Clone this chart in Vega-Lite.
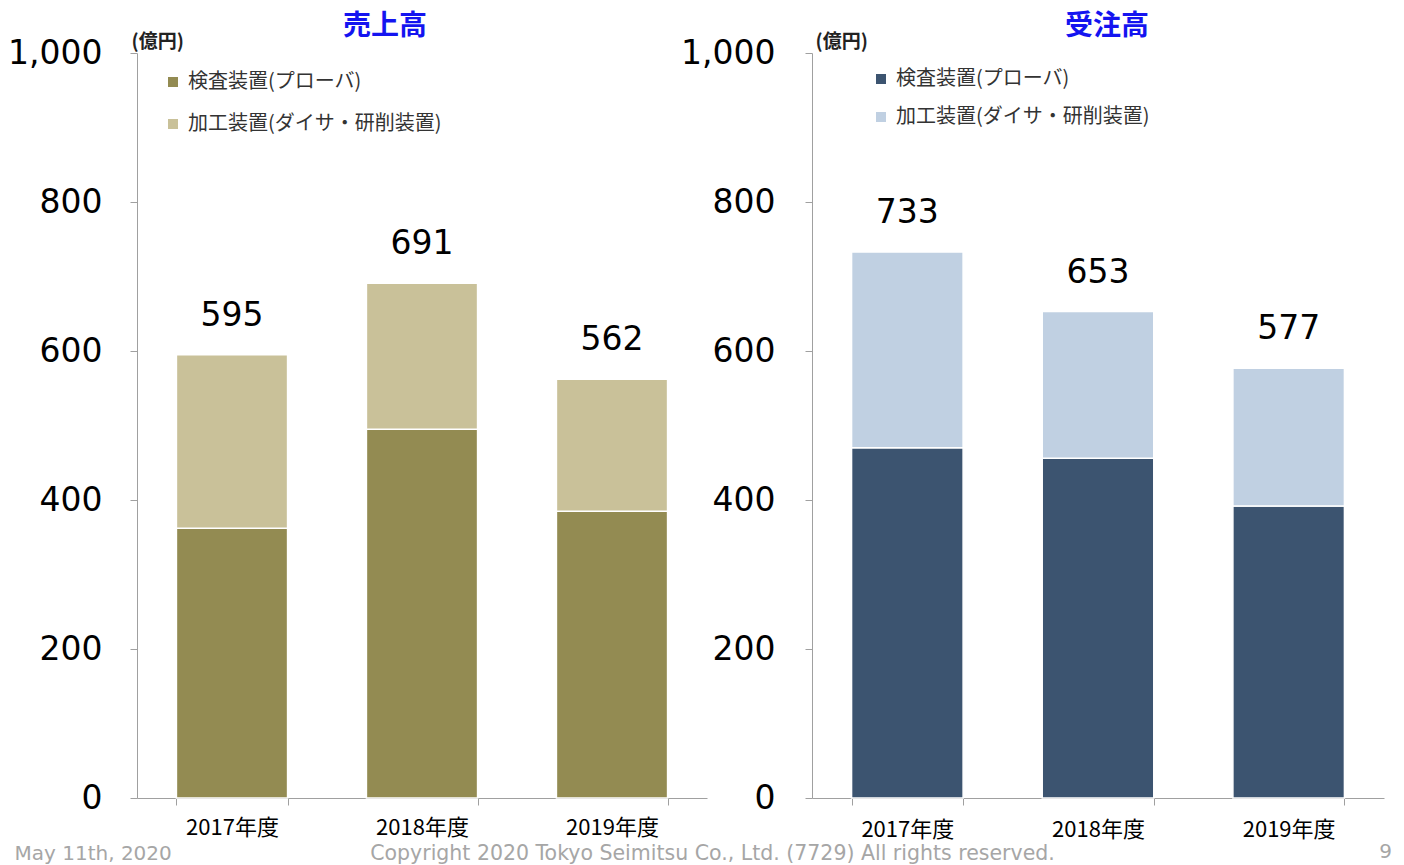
{
  "$schema": "https://vega.github.io/schema/vega-lite/v6.json",
  "background": "white",
  "padding": {"left": 7, "top": 13, "right": 5, "bottom": 5},
  "config": {
    "view": {"stroke": null},
    "axis": {"grid": false}
  },
  "bounds": "flush",
  "spacing": 105,
  "datasets": {
    "sales": [
      {"year": "2017年度", "segment": "検査装置(プローバ)", "value": 362},
      {"year": "2017年度", "segment": "加工装置(ダイサ・研削装置)", "value": 233},
      {"year": "2018年度", "segment": "検査装置(プローバ)", "value": 495},
      {"year": "2018年度", "segment": "加工装置(ダイサ・研削装置)", "value": 196},
      {"year": "2019年度", "segment": "検査装置(プローバ)", "value": 385},
      {"year": "2019年度", "segment": "加工装置(ダイサ・研削装置)", "value": 177}
    ],
    "orders": [
      {"year": "2017年度", "segment": "検査装置(プローバ)", "value": 470},
      {"year": "2017年度", "segment": "加工装置(ダイサ・研削装置)", "value": 263},
      {"year": "2018年度", "segment": "検査装置(プローバ)", "value": 456},
      {"year": "2018年度", "segment": "加工装置(ダイサ・研削装置)", "value": 197},
      {"year": "2019年度", "segment": "検査装置(プローバ)", "value": 392},
      {"year": "2019年度", "segment": "加工装置(ダイサ・研削装置)", "value": 185}
    ]
  },
  "title": {"text": "9", "orient": "bottom", "anchor": "end", "frame": "bounds", "fontSize": 20, "color": "#A6A6A6", "font": "DejaVu Sans", "fontWeight": "normal", "offset": -22, "dx": 8},
  "hconcat": [
    {
      "width": 570,
      "height": 745,
      "title": {"text": "売上高", "color": "#1414F0", "fontSize": 28, "fontWeight": "bold", "font": "Noto Sans CJK JP", "anchor": "middle", "frame": "group", "dx": -37, "offset": -9},
      "data": {"name": "sales"},
      "layer": [
        {
          "mark": {"type": "bar", "stroke": "white", "strokeWidth": 1.5},
          "encoding": {
            "x": {"field": "year", "type": "nominal", "sort": null,
              "scale": {"paddingInner": 0.415, "paddingOuter": 0.2075},
              "axis": {"title": "May 11th, 2020", "titleX": -123, "titleY": 55, "titleAlign": "left", "titleAnchor": null, "titleBaseline": "middle", "titleColor": "#A6A6A6", "titleFontWeight": "normal", "titleFontSize": 20, "titleFont": "DejaVu Sans",
                "labelAngle": 0, "labelFontSize": 22, "labelFont": "Noto Sans CJK JP", "labelColor": "black", "labelPadding": 12, "tickBand": "extent", "tickSize": 7, "tickColor": "#A0A0A0", "domainColor": "#A0A0A0"}},
            "y": {"field": "value", "type": "quantitative", "stack": "zero",
              "scale": {"domain": [0, 1000]},
              "axis": {"title": "(億円)", "titleAngle": 0, "titleX": -6, "titleY": -12, "titleAlign": "left", "titleAnchor": null, "titleBaseline": "middle", "titleFontSize": 19, "titleFontWeight": "bold", "titleFont": "Noto Sans CJK JP", "titleColor": "#222222",
                "values": [0, 200, 400, 600, 800, 1000], "format": ",d", "labelFontSize": 33, "labelFont": "DejaVu Sans", "labelColor": "black", "labelPadding": 28, "tickSize": 7, "tickColor": "#A0A0A0", "domainColor": "#A0A0A0"}},
            "color": {"field": "segment", "type": "nominal",
              "scale": {"domain": ["検査装置(プローバ)", "加工装置(ダイサ・研削装置)"], "range": ["#938B52", "#C9C199"]},
              "legend": {"title": null, "orient": "none", "legendX": 26, "legendY": 19, "symbolType": "square", "symbolSize": 100, "symbolStrokeWidth": 0, "labelFontSize": 20, "labelFont": "Noto Sans CJK JP", "labelColor": "#333333", "labelOffset": 5, "labelLimit": 0, "rowPadding": 22}},
            "order": {"field": "segment", "sort": "descending"}
          }
        },
        {
          "mark": {"type": "text", "baseline": "alphabetic", "dy": -29, "fontSize": 33, "font": "DejaVu Sans", "color": "black"},
          "encoding": {
            "x": {"field": "year", "type": "nominal", "sort": null},
            "y": {"aggregate": "sum", "field": "value", "type": "quantitative"},
            "text": {"aggregate": "sum", "field": "value", "type": "quantitative"}
          }
        }
      ]
    },
    {
      "width": 572,
      "height": 745,
      "title": {"text": "受注高", "color": "#1414F0", "fontSize": 28, "fontWeight": "bold", "font": "Noto Sans CJK JP", "anchor": "middle", "frame": "group", "dx": 9, "offset": -9},
      "data": {"name": "orders"},
      "layer": [
        {
          "mark": {"type": "bar", "stroke": "white", "strokeWidth": 1.5},
          "encoding": {
            "x": {"field": "year", "type": "nominal", "sort": null,
              "scale": {"paddingInner": 0.415, "paddingOuter": 0.2075},
              "axis": {"title": "Copyright  2020 Tokyo Seimitsu Co., Ltd. (7729) All rights reserved.", "titleX": -100, "titleY": 55, "titleAlign": "center", "titleAnchor": null, "titleBaseline": "middle", "titleColor": "#A6A6A6", "titleFontWeight": "normal", "titleFontSize": 20.5, "titleFont": "DejaVu Sans",
                "labelAngle": 0, "labelFontSize": 22, "labelFont": "Noto Sans CJK JP", "labelColor": "black", "labelPadding": 14, "tickBand": "extent", "tickSize": 7, "tickColor": "#A0A0A0", "domainColor": "#A0A0A0"}},
            "y": {"field": "value", "type": "quantitative", "stack": "zero",
              "scale": {"domain": [0, 1000]},
              "axis": {"title": "(億円)", "titleAngle": 0, "titleX": 3, "titleY": -12, "titleAlign": "left", "titleAnchor": null, "titleBaseline": "middle", "titleFontSize": 19, "titleFontWeight": "bold", "titleFont": "Noto Sans CJK JP", "titleColor": "#222222",
                "values": [0, 200, 400, 600, 800, 1000], "format": ",d", "labelFontSize": 33, "labelFont": "DejaVu Sans", "labelColor": "black", "labelPadding": 30, "tickSize": 7, "tickColor": "#A0A0A0", "domainColor": "#A0A0A0"}},
            "color": {"field": "segment", "type": "nominal",
              "scale": {"domain": ["検査装置(プローバ)", "加工装置(ダイサ・研削装置)"], "range": ["#3C5470", "#C0D0E2"]},
              "legend": {"title": null, "orient": "none", "legendX": 59, "legendY": 16, "symbolType": "square", "symbolSize": 100, "symbolStrokeWidth": 0, "labelFontSize": 20, "labelFont": "Noto Sans CJK JP", "labelColor": "#333333", "labelOffset": 5, "labelLimit": 0, "rowPadding": 18}},
            "order": {"field": "segment", "sort": "descending"}
          }
        },
        {
          "mark": {"type": "text", "baseline": "alphabetic", "dy": -29, "fontSize": 33, "font": "DejaVu Sans", "color": "black"},
          "encoding": {
            "x": {"field": "year", "type": "nominal", "sort": null},
            "y": {"aggregate": "sum", "field": "value", "type": "quantitative"},
            "text": {"aggregate": "sum", "field": "value", "type": "quantitative"}
          }
        }
      ]
    }
  ],
  "resolve": {"scale": {"color": "independent"}, "legend": {"color": "independent"}}
}
